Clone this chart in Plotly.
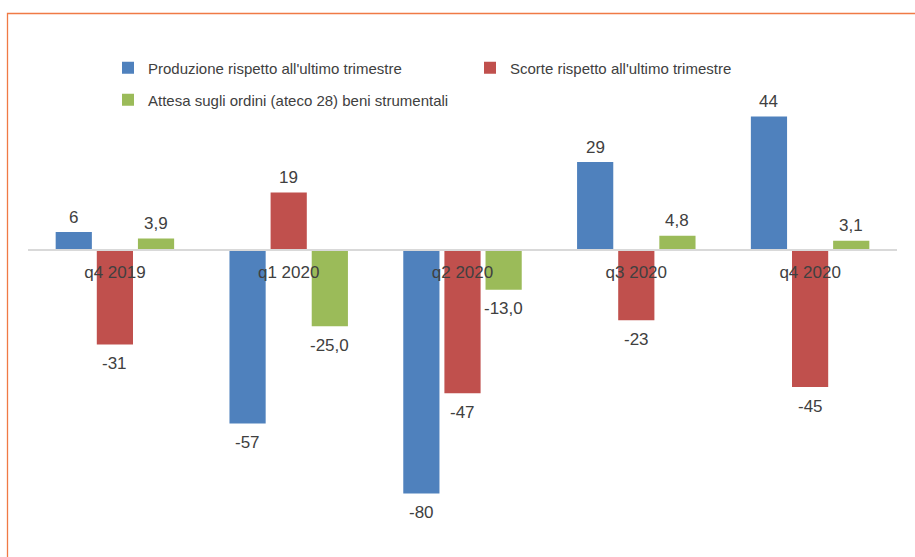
import plotly.graph_objects as go

# Quarterly survey balances
quarters = ["q4 2019", "q1 2020", "q2 2020", "q3 2020", "q4 2020"]
produzione = [6, -57, -80, 29, 44]
scorte = [-31, 19, -47, -23, -45]
attesa_ordini = [3.9, -25.0, -13.0, 4.8, 3.1]

names = [
    "Produzione rispetto all'ultimo trimestre",
    "Scorte rispetto all'ultimo trimestre",
    "Attesa sugli ordini (ateco 28) beni strumentali",
]
colors = ["#4f81bd", "#c0504d", "#9bbb59"]
formats = ["{:.0f}", "{:.0f}", "{:.1f}"]
series = [produzione, scorte, attesa_ordini]

W, H = 915, 557
ML, MR, MT, MB = 28, 18, 80, 27
Y_MIN, Y_MAX = -92, 56
BARGAP = 0.29
plot_h = H - MT - MB
plot_w = W - ML - MR

FONT = "Liberation Sans, Arial, sans-serif"
TXT = "#404040"

fig = go.Figure()
for j, (vals, name, col) in enumerate(zip(series, names, colors)):
    fig.add_trace(go.Bar(
        x=list(range(len(quarters))), y=vals, name=name, marker_color=col,
        marker_line_width=0, legend="legend" if j < 2 else "legend2",
    ))

# value labels: just beyond the end of each bar, decimal comma
annotations = []
slot = (1 - BARGAP) / len(series)
for j, (vals, fmt) in enumerate(zip(series, formats)):
    for i, v in enumerate(vals):
        annotations.append(dict(
            x=i + (j - 1) * slot, y=v, xref="x", yref="y",
            text=fmt.format(v).replace(".", ","), showarrow=False,
            yshift=15 if v >= 0 else -19,
            font=dict(family=FONT, size=17, color=TXT),
        ))


def px_to_paper_x(px):
    return (px - ML) / plot_w


def px_to_paper_y(py):
    return (H - MB - py) / plot_h


legend_style = dict(
    orientation="h", xanchor="left", yanchor="middle",
    font=dict(family=FONT, size=15, color=TXT),
    bgcolor="rgba(0,0,0,0)", itemclick=False, traceorder="normal",
)

fig.update_layout(
    width=W, height=H,
    margin=dict(l=ML, r=MR, t=MT, b=MB),
    paper_bgcolor="white", plot_bgcolor="white",
    barmode="group", bargap=BARGAP, bargroupgap=0.12,
    font=dict(family=FONT, size=17, color=TXT),
    legend=dict(x=px_to_paper_x(108), y=px_to_paper_y(68), entrywidth=317,
                **legend_style),
    legend2=dict(x=px_to_paper_x(108), y=px_to_paper_y(100), **legend_style),
    xaxis=dict(
        anchor="free", position=-Y_MIN / (Y_MAX - Y_MIN),
        tickmode="array", tickvals=list(range(len(quarters))),
        ticktext=quarters, range=[-0.5, len(quarters) - 0.5],
        showline=True, linecolor="#d9d9d9", linewidth=1.5,
        ticks="", showgrid=False, ticklabelstandoff=7,
        tickfont=dict(family=FONT, size=17, color=TXT),
    ),
    yaxis=dict(range=[Y_MIN, Y_MAX], visible=False, showgrid=False,
               zeroline=False),
    annotations=annotations,
    shapes=[
        # thin orange frame around the chart area
        dict(type="rect", xref="paper", yref="paper",
             x0=px_to_paper_x(7.5), x1=px_to_paper_x(W + 10),
             y0=px_to_paper_y(H + 10), y1=px_to_paper_y(13.5),
             line=dict(color="#f07a45", width=1.3), layer="below"),
    ],
)

fig.write_html("out.html")
